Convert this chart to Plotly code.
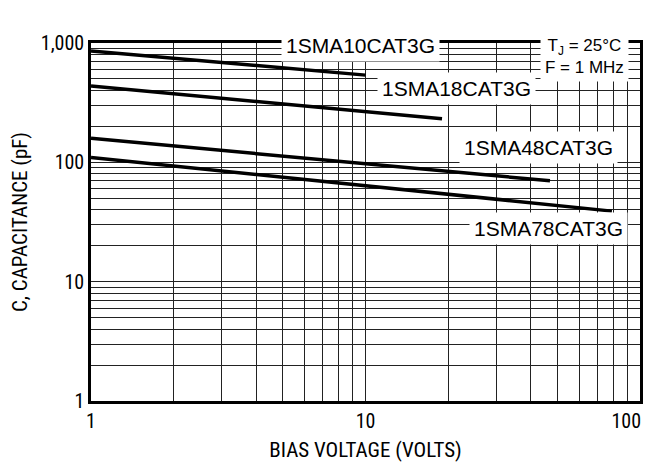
import plotly.graph_objects as go

# Data (bias voltage in V, capacitance in pF)
v_10 = [1, 10]
c_10 = [857, 538]
v_18 = [1, 19]
c_18 = [436, 232]
v_48 = [1, 47]
c_48 = [159, 70]
v_78 = [1, 79]
c_78 = [110, 39]

series_names = ["1SMA10CAT3G", "1SMA18CAT3G", "1SMA48CAT3G", "1SMA78CAT3G"]

NBSP = "\u00a0"
x_ticks = [1, 10, 100]
x_ticktext = ["1", "10", "100" + NBSP * 6]
y_ticks = [1, 10, 100, 1000]
y_ticktext = ["1", "10", "100", "1,000"]
x_minor = [2, 3, 4, 5, 6, 7, 8, 9, 20, 30, 40, 50, 60, 70, 80, 90]
y_minor = [m * d for d in (1, 10, 100) for m in (2, 3, 4, 5, 6, 7, 8, 9)]

NARROW = "Liberation Sans Narrow, Roboto Condensed, Noto Sans Condensed, Liberation Sans, Arial, sans-serif"
REG = "Liberation Sans, Arial, sans-serif"

fig = go.Figure()
for vx, cy, nm in [(v_10, c_10, series_names[0]), (v_18, c_18, series_names[1]),
                   (v_48, c_48, series_names[2]), (v_78, c_78, series_names[3])]:
    fig.add_trace(go.Scatter(x=vx, y=cy, mode="lines", name=nm,
                             line=dict(color="black", width=3.5), showlegend=False))

grid_col = "#222222"
axis_common = dict(
    type="log", showline=True, linecolor="black", linewidth=2.5, mirror=True,
    showgrid=True, gridcolor=grid_col, gridwidth=1.1, ticks="", zeroline=False,
    automargin=False, ticklabeloverflow="allow", ticklabelstandoff=0,
    tickfont=dict(family=NARROW, size=20, color="black"),
)
fig.update_xaxes(**axis_common, range=[0, 2], tickvals=x_ticks, ticktext=x_ticktext,
                 minor=dict(tickvals=x_minor, showgrid=True, gridcolor=grid_col, gridwidth=1.1, ticks=""),
                 title=dict(text="BIAS VOLTAGE (VOLTS)", font=dict(family=NARROW, size=21, color="black"), standoff=14))
fig.update_yaxes(**axis_common, range=[0, 3], tickvals=y_ticks, ticktext=y_ticktext,
                 minor=dict(tickvals=y_minor, showgrid=True, gridcolor=grid_col, gridwidth=1.1, ticks=""),
                 title=dict(text="C, CAPACITANCE (pF)", font=dict(family=NARROW, size=21, color="black"), standoff=14))

def label(text, x, y, size=21):
    fig.add_annotation(xref="paper", yref="paper", x=x, y=y, text=text, showarrow=False,
                       font=dict(family=REG, size=size, color="black"),
                       bgcolor="white", borderpad=4, xanchor="center", yanchor="middle")

label(series_names[0], 0.49, 0.993)
label(series_names[1], 0.665, 0.874)
label(series_names[2], 0.816, 0.707)
label(series_names[3], 0.834, 0.483)
fig.add_annotation(xref="paper", yref="paper", x=0.898, y=0.963,
                   text="T<sub>J</sub> = 25°C<br>F = 1 MHz", showarrow=False,
                   font=dict(family=REG, size=17, color="black"), bgcolor="white",
                   borderpad=4, align="center", xanchor="center", yanchor="middle")

# The page body adds an 8 px offset, so the figure is 8 px smaller on each axis
fig.update_layout(
    width=646, height=454,
    margin=dict(l=83, r=14, t=35, b=61),
    paper_bgcolor="white", plot_bgcolor="white",
)
fig.write_html("out.html")
